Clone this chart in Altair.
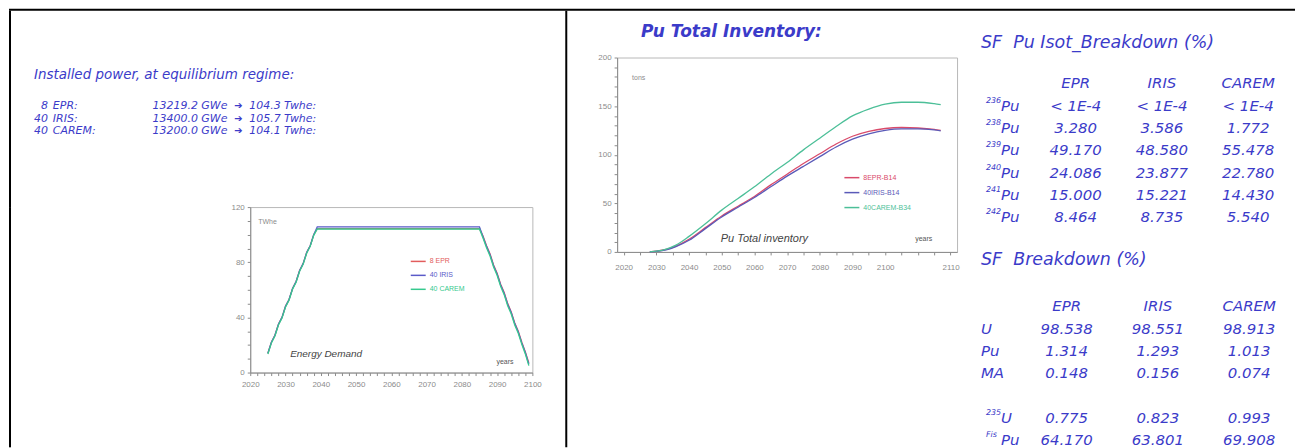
import altair as alt
import pandas as pd

# ---------------- data ----------------
reactor_counts = ["8", "40", "40"]
reactor_names = ["EPR:", "IRIS:", "CAREM:"]
installed_power = ["13219.2 GWe", "13400.0 GWe", "13200.0 GWe"]
annual_energy = ["104.3 Twhe:", "105.7 Twhe:", "104.1 Twhe:"]

demand_series = ["8 EPR", "40 IRIS", "40 CAREM"]
demand_years = [2025, 2026, 2027, 2028, 2029, 2030, 2031, 2032, 2033, 2034, 2035, 2036, 2037, 2038, 2039,
                2085, 2086, 2087, 2088, 2089, 2090, 2091, 2092, 2093, 2094, 2095, 2096, 2097, 2098, 2099]
demand_epr = [14, 22, 27, 35, 40, 48, 53, 61, 66, 74, 79, 87, 92, 100, 104.3,
              104.3, 99, 92, 86, 78, 72, 64, 58, 50, 44, 36, 30, 22, 15, 7]
demand_iris = [14, 22, 27, 35, 40, 48, 53, 61, 66, 74, 79, 87, 92, 100, 105.7,
               105.7, 98.5, 91.5, 85.5, 77.5, 71.5, 63.5, 57.5, 49.5, 43.5, 35.5, 29.5, 21.5, 14.5, 6]
demand_carem = [13.5, 21.5, 26.5, 34.5, 39.5, 47.5, 52.5, 60.5, 65.5, 73.5, 78.5, 86.5, 91.5, 99.5, 104.1,
                104.1, 97.5, 90.5, 84.5, 76.5, 70.5, 62.5, 56.5, 48.5, 42.5, 34.5, 28.5, 20.5, 13.5, 5]

inv_series = ["8EPR-B14", "40IRIS-B14", "40CAREM-B34"]
inv_years = [2028, 2030, 2033, 2036, 2040, 2045, 2050, 2055, 2060, 2065, 2070,
             2075, 2080, 2085, 2090, 2095, 2100, 2105, 2110, 2115, 2117]
inv_epr = [0, 0.7, 2.5, 6, 13, 25, 37, 47, 57, 69, 80, 91, 101, 111, 119, 124, 127, 128, 127.5, 126, 125]
inv_iris = [0, 0.6, 2.2, 5.5, 12, 24, 36, 46, 56, 67, 78, 88, 98, 108, 116, 121.5, 125, 126.5, 126.5, 125.5, 124.5]
inv_carem = [0, 0.8, 3, 7, 16, 29, 43, 55, 67, 80, 92, 105, 117, 129, 140, 147, 152, 154, 154, 152.5, 151.5]

reactor_cols = ["EPR", "IRIS", "CAREM"]
iso_sup = ["236", "238", "239", "240", "241", "242"]
iso_epr = ["< 1E-4", "3.280", "49.170", "24.086", "15.000", "8.464"]
iso_iris = ["< 1E-4", "3.586", "48.580", "23.877", "15.221", "8.735"]
iso_carem = ["< 1E-4", "1.772", "55.478", "22.780", "14.430", "5.540"]

sf_labels = ["U", "Pu", "MA", "U", "Pu"]
sf_sup = ["", "", "", "235", "Fis"]
sf_epr = ["98.538", "1.314", "0.148", "0.775", "64.170"]
sf_iris = ["98.551", "1.293", "0.156", "0.823", "63.801"]
sf_carem = ["98.913", "1.013", "0.074", "0.993", "69.908"]

# ---------------- styles ----------------
BLUE = "#3b3bc9"
HAND = "DejaVu Sans"
GRAY = "#8c8c8c"
demand_colors = ["#e25c5c", "#5a5ac8", "#36c98e"]
inv_colors = ["#d94a6a", "#5a5ab8", "#4cbf98"]

one = pd.DataFrame({"k": [0]})


def hline(x1, x2, y):
    return alt.Chart(one).mark_rule(color="black", strokeWidth=2).encode(
        x=alt.value(x1), x2=alt.value(x2), y=alt.value(y))


def vline(x, y1, y2):
    return alt.Chart(one).mark_rule(color="black", strokeWidth=2).encode(
        x=alt.value(x), y=alt.value(y1), y2=alt.value(y2))


def note(text, x, y, **kw):
    return alt.Chart(pd.DataFrame({"t": [text]})).mark_text(baseline="middle", **kw).encode(
        x=alt.value(x), y=alt.value(y), text="t:N")


def hand(text, x, y, size, **kw):
    return note(text, x, y, align="left", font=HAND, fontStyle="italic", fontSize=size, color=BLUE, **kw)


def axis(values, expr, pad):
    return alt.Axis(values=values, labelExpr=expr, format="d", grid=False, title=None,
                    domainColor=GRAY, tickColor=GRAY, labelColor=GRAY, labelFont="Liberation Sans",
                    labelFontSize=8, tickSize=3, labelPadding=pad, labelOverlap=False, labelFlush=False)


def legend(x, y, names, colors, gap):
    expr = ("datum.label == '%s' ? '%s' : (datum.label == '%s' ? '%s' : '%s')"
            % (names[0], colors[0], names[1], colors[1], colors[2]))
    return alt.Legend(orient="none", legendX=x, legendY=y, title=None, symbolType="stroke",
                      symbolSize=225, symbolStrokeWidth=1.5, labelFontSize=7, labelFont="Liberation Sans",
                      labelColor={"expr": expr}, rowPadding=gap, labelOffset=3, padding=0)


def hc(*charts, bounds="flush"):
    return alt.hconcat(*charts, spacing=0, bounds=bounds).resolve_scale(
        x="independent", y="independent", color="independent")


def vc(*charts):
    return alt.vconcat(*charts, spacing=0, bounds="flush").resolve_scale(
        x="independent", y="independent", color="independent")


def spacer(w, h, border=False):
    layers = [alt.Chart(one).mark_text().encode(text=alt.value(""))]
    if border:
        layers.append(vline(1, 0, h))
    return alt.layer(*layers).properties(width=w, height=h)


# ---------------- left panel: text ----------------
power_df = pd.DataFrame({"line": [0, 1, 2], "count": reactor_counts, "name": reactor_names,
                         "power": installed_power, "energy": annual_energy})
yrow = alt.Y("line:Q", scale=alt.Scale(domain=[0, 2], range=[96, 121]), axis=None)
row_style = dict(baseline="middle", font=HAND, fontStyle="italic", fontSize=11, color=BLUE)
ptxt = alt.Chart(power_df)
left_text = alt.layer(
    vline(1, 0, 197),
    hand("Installed power, at equilibrium regime:", 25, 65, 13.5),
    ptxt.mark_text(align="right", **row_style).encode(x=alt.value(39), y=yrow, text="count:N"),
    ptxt.mark_text(align="left", **row_style).encode(x=alt.value(44), y=yrow, text="name:N"),
    ptxt.mark_text(align="left", **row_style).encode(x=alt.value(144), y=yrow, text="power:N"),
    ptxt.mark_text(align="left", baseline="middle", font=HAND, fontSize=10, color=BLUE).encode(
        x=alt.value(226), y=yrow, text=alt.value("\u2794")),
    ptxt.mark_text(align="left", **row_style).encode(x=alt.value(241), y=yrow, text="energy:N"),
).properties(width=558, height=197)

# ---------------- energy demand chart ----------------
demand_df = pd.DataFrame({
    "year": demand_years * 3,
    "twhe": demand_epr + demand_iris + demand_carem,
    "series": [s for s in demand_series for _ in demand_years],
})
e_lines = alt.Chart(demand_df).mark_line(strokeWidth=1.3).encode(
    x=alt.X("year:Q", scale=alt.Scale(domain=[2020, 2100], nice=False, zero=False),
            axis=axis(list(range(2020, 2101, 2)), "datum.value % 10 == 0 ? datum.label : ''", 5)),
    y=alt.Y("twhe:Q", scale=alt.Scale(domain=[0, 120], nice=False),
            axis=axis(list(range(0, 121, 10)), "datum.value % 40 == 0 ? datum.label : ''", 3)),
    color=alt.Color("series:N", scale=alt.Scale(domain=demand_series, range=demand_colors),
                    legend=legend(160, 46, demand_series, demand_colors, 2)),
)
energy = alt.layer(
    e_lines,
    note("TWhe", 8, 15, align="left", fontSize=7, color=GRAY, font="Liberation Sans"),
    note("Energy Demand", 40, 147, align="left", fontSize=10, color="#444444", fontStyle="italic",
         font="Liberation Sans"),
    note("years", 247, 155, align="left", fontSize=7, color="#555555", font="Liberation Sans"),
).properties(width=283, height=166, view=alt.ViewBackground(stroke="#b8b8b8", strokeWidth=1))

left_col = vc(left_text, hc(spacer(242, 241, border=True), energy))

divider = alt.layer(vline(1, 0, 438)).properties(width=2, height=438)

# ---------------- Pu inventory chart ----------------
inv_df = pd.DataFrame({
    "year": inv_years * 3,
    "tons": inv_epr + inv_iris + inv_carem,
    "series": [s for s in inv_series for _ in inv_years],
})
p_lines = alt.Chart(inv_df).mark_line(strokeWidth=1.3, interpolate="monotone").encode(
    x=alt.X("year:Q", scale=alt.Scale(domain=[2018, 2122], nice=False, zero=False),
            axis=axis(list(range(2020, 2121, 5)),
                      "datum.value == 2120 ? '2110' : (datum.value % 10 == 0 && datum.value <= 2100 ? datum.label : '')",
                      9)),
    y=alt.Y("tons:Q", scale=alt.Scale(domain=[0, 200], nice=False),
            axis=axis(list(range(0, 201, 10)), "datum.value % 50 == 0 ? datum.label : ''", 3)),
    color=alt.Color("series:N", scale=alt.Scale(domain=inv_series, range=inv_colors),
                    legend=legend(227, 112, inv_series, inv_colors, 3)),
)
pu_chart = alt.layer(
    p_lines,
    note("tons", 15, 21, align="left", fontSize=7, color=GRAY, font="Liberation Sans"),
    note("Pu Total inventory", 104, 182, align="left", fontSize=11, color="#444444", fontStyle="italic",
         font="Liberation Sans"),
    note("years", 299, 182, align="left", fontSize=7, color="#555555", font="Liberation Sans"),
).properties(width=341, height=195, view=alt.ViewBackground(stroke="#b8b8b8", strokeWidth=1))

pu_title = alt.layer(
    hand("Pu Total Inventory:", 74, 21, 17, fontWeight="bold"),
).properties(width=391, height=47)

pu_col = vc(pu_title, hc(spacer(50, 195), pu_chart))

# ---------------- tables ----------------
iso_cells = []
for col, vals in zip(reactor_cols, [iso_epr, iso_iris, iso_carem]):
    iso_cells.append({"line": 0, "col": col, "text": col})
    for i, v in enumerate(vals):
        iso_cells.append({"line": i + 1, "col": col, "text": v})
iso_df = pd.DataFrame(iso_cells)

sf_lines = [11, 12, 13, 15, 16]
sf_cells = []
for col, vals in zip(reactor_cols, [sf_epr, sf_iris, sf_carem]):
    sf_cells.append({"line": 10, "col": col, "text": col})
    for ln, v in zip(sf_lines, vals):
        sf_cells.append({"line": ln, "col": col, "text": v})
sf_df = pd.DataFrame(sf_cells)

labels_df = pd.DataFrame(
    [{"line": i + 1, "sup": s, "main": "Pu"} for i, s in enumerate(iso_sup)]
    + [{"line": ln, "sup": s, "main": m} for ln, s, m in zip(sf_lines, sf_sup, sf_labels)]
)
sup_df = labels_df[labels_df["sup"] != ""]
plain_df = labels_df[labels_df["sup"] == ""]

ytab = alt.Y("line:Q", scale=alt.Scale(domain=[0, 16], range=[73, 431]), axis=None)
cell = dict(baseline="middle", font=HAND, fontStyle="italic", fontSize=15, color=BLUE)

iso_layer = alt.Chart(iso_df).mark_text(align="center", **cell).encode(
    x=alt.X("col:N", scale=alt.Scale(domain=reactor_cols, range=[116, 289], padding=0), axis=None),
    y=ytab, text="text:N")
sf_layer = alt.Chart(sf_df).mark_text(align="center", **cell).encode(
    x=alt.X("col:N", scale=alt.Scale(domain=reactor_cols, range=[107, 290], padding=0), axis=None),
    y=ytab, text="text:N")
sup_layer = alt.Chart(sup_df).mark_text(align="left", baseline="middle", font=HAND, fontStyle="italic",
                                         fontSize=8, color=BLUE, dy=-5).encode(
    x=alt.value(26), y=ytab, text="sup:N")
sup_main = alt.Chart(sup_df).mark_text(align="left", **cell).encode(x=alt.value(41), y=ytab, text="main:N")
plain_main = alt.Chart(plain_df).mark_text(align="left", **cell).encode(x=alt.value(21), y=ytab, text="main:N")

tables = alt.layer(
    hand("SF\u00a0 Pu Isot_Breakdown (%)", 21, 32, 17.5),
    hand("SF\u00a0 Breakdown (%)", 21, 250, 17.5),
    iso_layer, sf_layer, sup_layer, sup_main, plain_main,
).resolve_scale(x="independent").properties(width=339, height=430)

top_border = alt.layer(hline(0, 1290, 1)).properties(width=1290, height=2)

chart = vc(
    top_border,
    hc(left_col, divider, pu_col, tables, bounds="full"),
).properties(padding=0).configure_view(stroke=None)

chart.save("out.html", embed_options={"renderer": "svg", "actions": False})
